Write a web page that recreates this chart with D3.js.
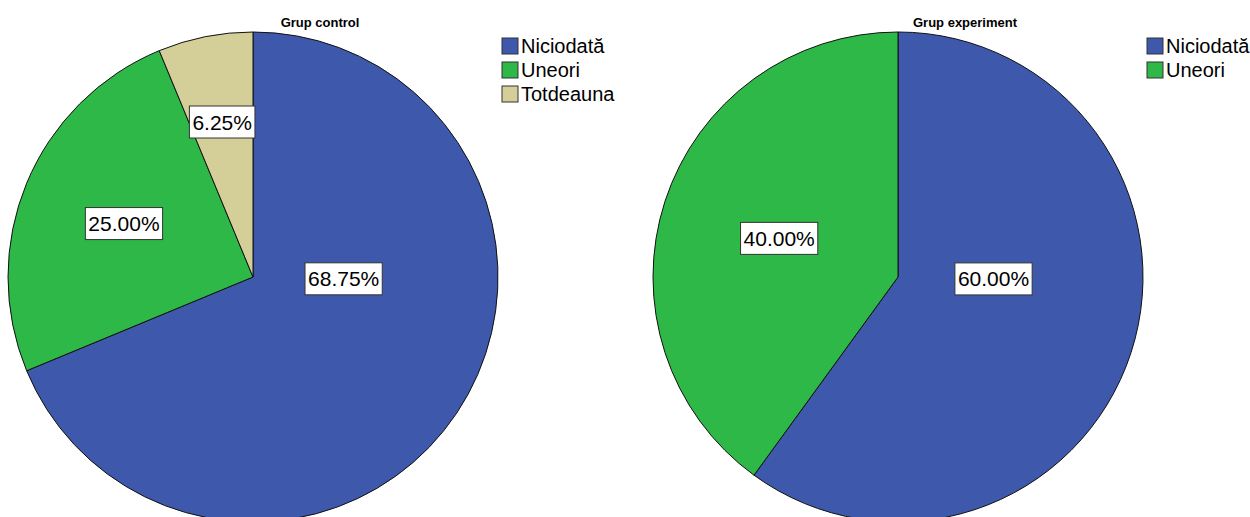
<!DOCTYPE html>
<html>
<head>
<meta charset="utf-8">
<script src="https://d3js.org/d3.v7.min.js"></script>
<style>
  body { margin: 0; background: #fff; }
  text { font-family: "Liberation Sans", Arial, sans-serif; }
</style>
</head>
<body>
<div id="chart"></div>
<script>
// data
var groupTitles = ["Grup control", "Grup experiment"];
var categories = ["Niciodată", "Uneori", "Totdeauna"];
var controlValues = [68.75, 25.00, 6.25];
var experimentValues = [60.00, 40.00];
var groupValues = [controlValues, experimentValues];

var colors = ["#3e58ac", "#2eb848", "#d4ce99"];

var svgWidth = 1250;
var svgHeight = 517;
var panelWidth = 645;
var radius = 245;

var svg = d3.select("#chart")
    .append("svg")
    .attr("width", svgWidth)
    .attr("height", svgHeight);

var pie = d3.pie()
    .sort(null)
    .value(d => d);

var arc = d3.arc()
    .innerRadius(0)
    .outerRadius(radius);

groupValues.forEach(function(values, gi){
    var panel = svg.append("g")
        .attr("transform", `translate(${gi * panelWidth},0)`);

    panel.append("text")
        .attr("x", 320)
        .attr("y", 27)
        .attr("text-anchor", "middle")
        .style("font-size", "13px")
        .style("font-weight", "bold")
        .text(groupTitles[gi]);

    var pieGroup = panel.append("g")
        .attr("transform", `translate(253,277)`);

    var slices = pie(values);

    pieGroup.selectAll("path")
        .data(slices)
        .enter()
        .append("path")
        .attr("d", arc)
        .attr("fill", (d, i) => colors[i])
        .attr("stroke", "#111")
        .attr("stroke-width", 1);

    // label placement roughly like SPSS
    var labels = pieGroup.selectAll("g.lbl")
        .data(slices)
        .enter()
        .append("g")
        .attr("class", "lbl")
        .attr("transform", function(d){
            var span = d.endAngle - d.startAngle;
            var a, k;
            if (span > Math.PI) {
                a = Math.PI / 2 + 0.02;
                k = span > 1.3 * Math.PI ? 0.37 : 0.39;
            } else {
                a = (d.startAngle + d.endAngle) / 2;
                k = 0.47 + 0.2 * (1 - span / Math.PI);
            }
            var x = Math.sin(a) * radius * k;
            var y = -Math.cos(a) * radius * k;
            return `translate(${x},${y})`;
        });

    labels.append("text")
        .attr("text-anchor", "middle")
        .attr("dy", "0.36em")
        .style("font-size", "21px")
        .text(d => d.data.toFixed(2) + "%");

    labels.each(function(){
        var g = d3.select(this);
        var bb = g.select("text").node().getBBox();
        g.insert("rect", "text")
            .attr("x", bb.x - 3)
            .attr("y", -16)
            .attr("width", bb.width + 6)
            .attr("height", 32)
            .attr("fill", "#fff")
            .attr("stroke", "#333")
            .attr("stroke-width", 1);
    });

    var legend = panel.append("g")
        .attr("transform", `translate(502,38)`);

    var items = legend.selectAll("g")
        .data(values.map((v, i) => categories[i]))
        .enter()
        .append("g")
        .attr("transform", (d, i) => `translate(0,${i * 24})`);

    items.append("rect")
        .attr("width", 16)
        .attr("height", 16)
        .attr("fill", (d, i) => colors[i])
        .attr("stroke", "#333")
        .attr("stroke-width", 1);

    items.append("text")
        .attr("x", 19)
        .attr("y", 15)
        .style("font-size", "20px")
        .text(d => d);
});
</script>
</body>
</html>
